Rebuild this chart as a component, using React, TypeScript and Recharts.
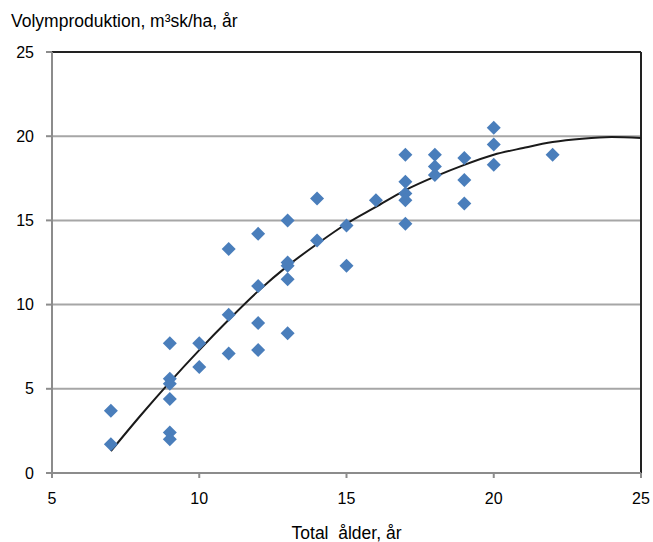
import { ComposedChart, Scatter, Line, XAxis, YAxis, CartesianGrid, ReferenceLine } from "recharts";

// total age (years) and volume production per observation
const ageValues = [
  7, 7,
  9, 9, 9, 9, 9, 9,
  10, 10,
  11, 11, 11,
  12, 12, 12, 12,
  13, 13, 13, 13, 13,
  14, 14,
  15, 15,
  16,
  17, 17, 17, 17, 17,
  18, 18, 18,
  19, 19, 19,
  20, 20, 20,
  22,
];
const volumeValues = [
  3.7, 1.7,
  7.7, 5.6, 5.3, 4.4, 2.4, 2.0,
  7.7, 6.3,
  13.3, 9.4, 7.1,
  14.2, 11.1, 8.9, 7.3,
  15.0, 12.5, 12.3, 11.5, 8.3,
  16.3, 13.8,
  14.7, 12.3,
  16.2,
  18.9, 17.3, 16.6, 16.2, 14.8,
  18.9, 18.2, 17.7,
  18.7, 17.4, 16.0,
  20.5, 19.5, 18.3,
  18.9,
];

// trend curve
const trendAges = [7, 8, 9, 10, 11, 12, 13, 14, 15, 16, 17, 18, 19, 20, 21, 22, 23, 24, 25];
const trendValues = [1.3, 3.4, 5.4, 7.3, 9.1, 10.8, 12.3, 13.6, 14.8, 15.8, 16.8, 17.6, 18.3, 18.9, 19.3, 19.65, 19.85, 19.95, 19.9];

const xTicks = [5, 10, 15, 20, 25];
const yTicks = [0, 5, 10, 15, 20, 25];

const points = ageValues.map((x, i) => ({ x, y: volumeValues[i] }));
const trend = trendAges.map((x, i) => ({ x, y: trendValues[i] }));

const font = "'Liberation Sans', Arial, sans-serif";

const Diamond = (props: any) => {
  const { cx, cy } = props;
  const r = 7;
  return (
    <polygon
      points={`${cx},${cy - r} ${cx + r},${cy} ${cx},${cy + r} ${cx - r},${cy}`}
      fill="#4a7ebb"
    />
  );
};

export default function App() {
  return (
    <div style={{ position: "absolute", left: 0, top: 0, width: 653, height: 542, background: "#fff", fontFamily: font }}>
      <div style={{ position: "absolute", left: 11, top: 11, fontSize: 17.5, color: "#000", whiteSpace: "pre" }}>
        Volymproduktion, m³sk/ha, år
      </div>
      <div style={{ position: "absolute", left: 52, width: 589, top: 523, textAlign: "center", fontSize: 17.5, color: "#000", whiteSpace: "pre" }}>
        Total  ålder, år
      </div>
      <ComposedChart
        width={653}
        height={542}
        margin={{ top: 52, right: 12, bottom: 0, left: 0 }}
      >
        <CartesianGrid horizontal vertical={false} stroke="#a6a6a6" strokeWidth={2} />
        <XAxis
          type="number"
          dataKey="x"
          domain={[5, 25]}
          ticks={xTicks}
          allowDataOverflow
          height={69}
          tickSize={5}
          tickMargin={15}
          axisLine={{ stroke: "#8c8c8c", strokeWidth: 2 }}
          tickLine={{ stroke: "#8c8c8c", strokeWidth: 2 }}
          tick={{ fill: "#000", fontSize: 16, fontFamily: font }}
        />
        <YAxis
          type="number"
          dataKey="y"
          domain={[0, 25]}
          ticks={yTicks}
          allowDataOverflow
          width={52}
          tickSize={6}
          tickMargin={12}
          axisLine={{ stroke: "#8c8c8c", strokeWidth: 2 }}
          tickLine={{ stroke: "#8c8c8c", strokeWidth: 2 }}
          tick={{ fill: "#000", fontSize: 16, fontFamily: font }}
        />
        <ReferenceLine y={25} stroke="#222" strokeWidth={2} />
        <ReferenceLine x={25} stroke="#222" strokeWidth={2} />
        <Scatter data={points} dataKey="y" shape={Diamond} isAnimationActive={false} />
        <Line
          data={trend}
          dataKey="y"
          type="monotone"
          stroke="#1a1a1a"
          strokeWidth={2}
          dot={false}
          activeDot={false}
          isAnimationActive={false}
        />
      </ComposedChart>
    </div>
  );
}
